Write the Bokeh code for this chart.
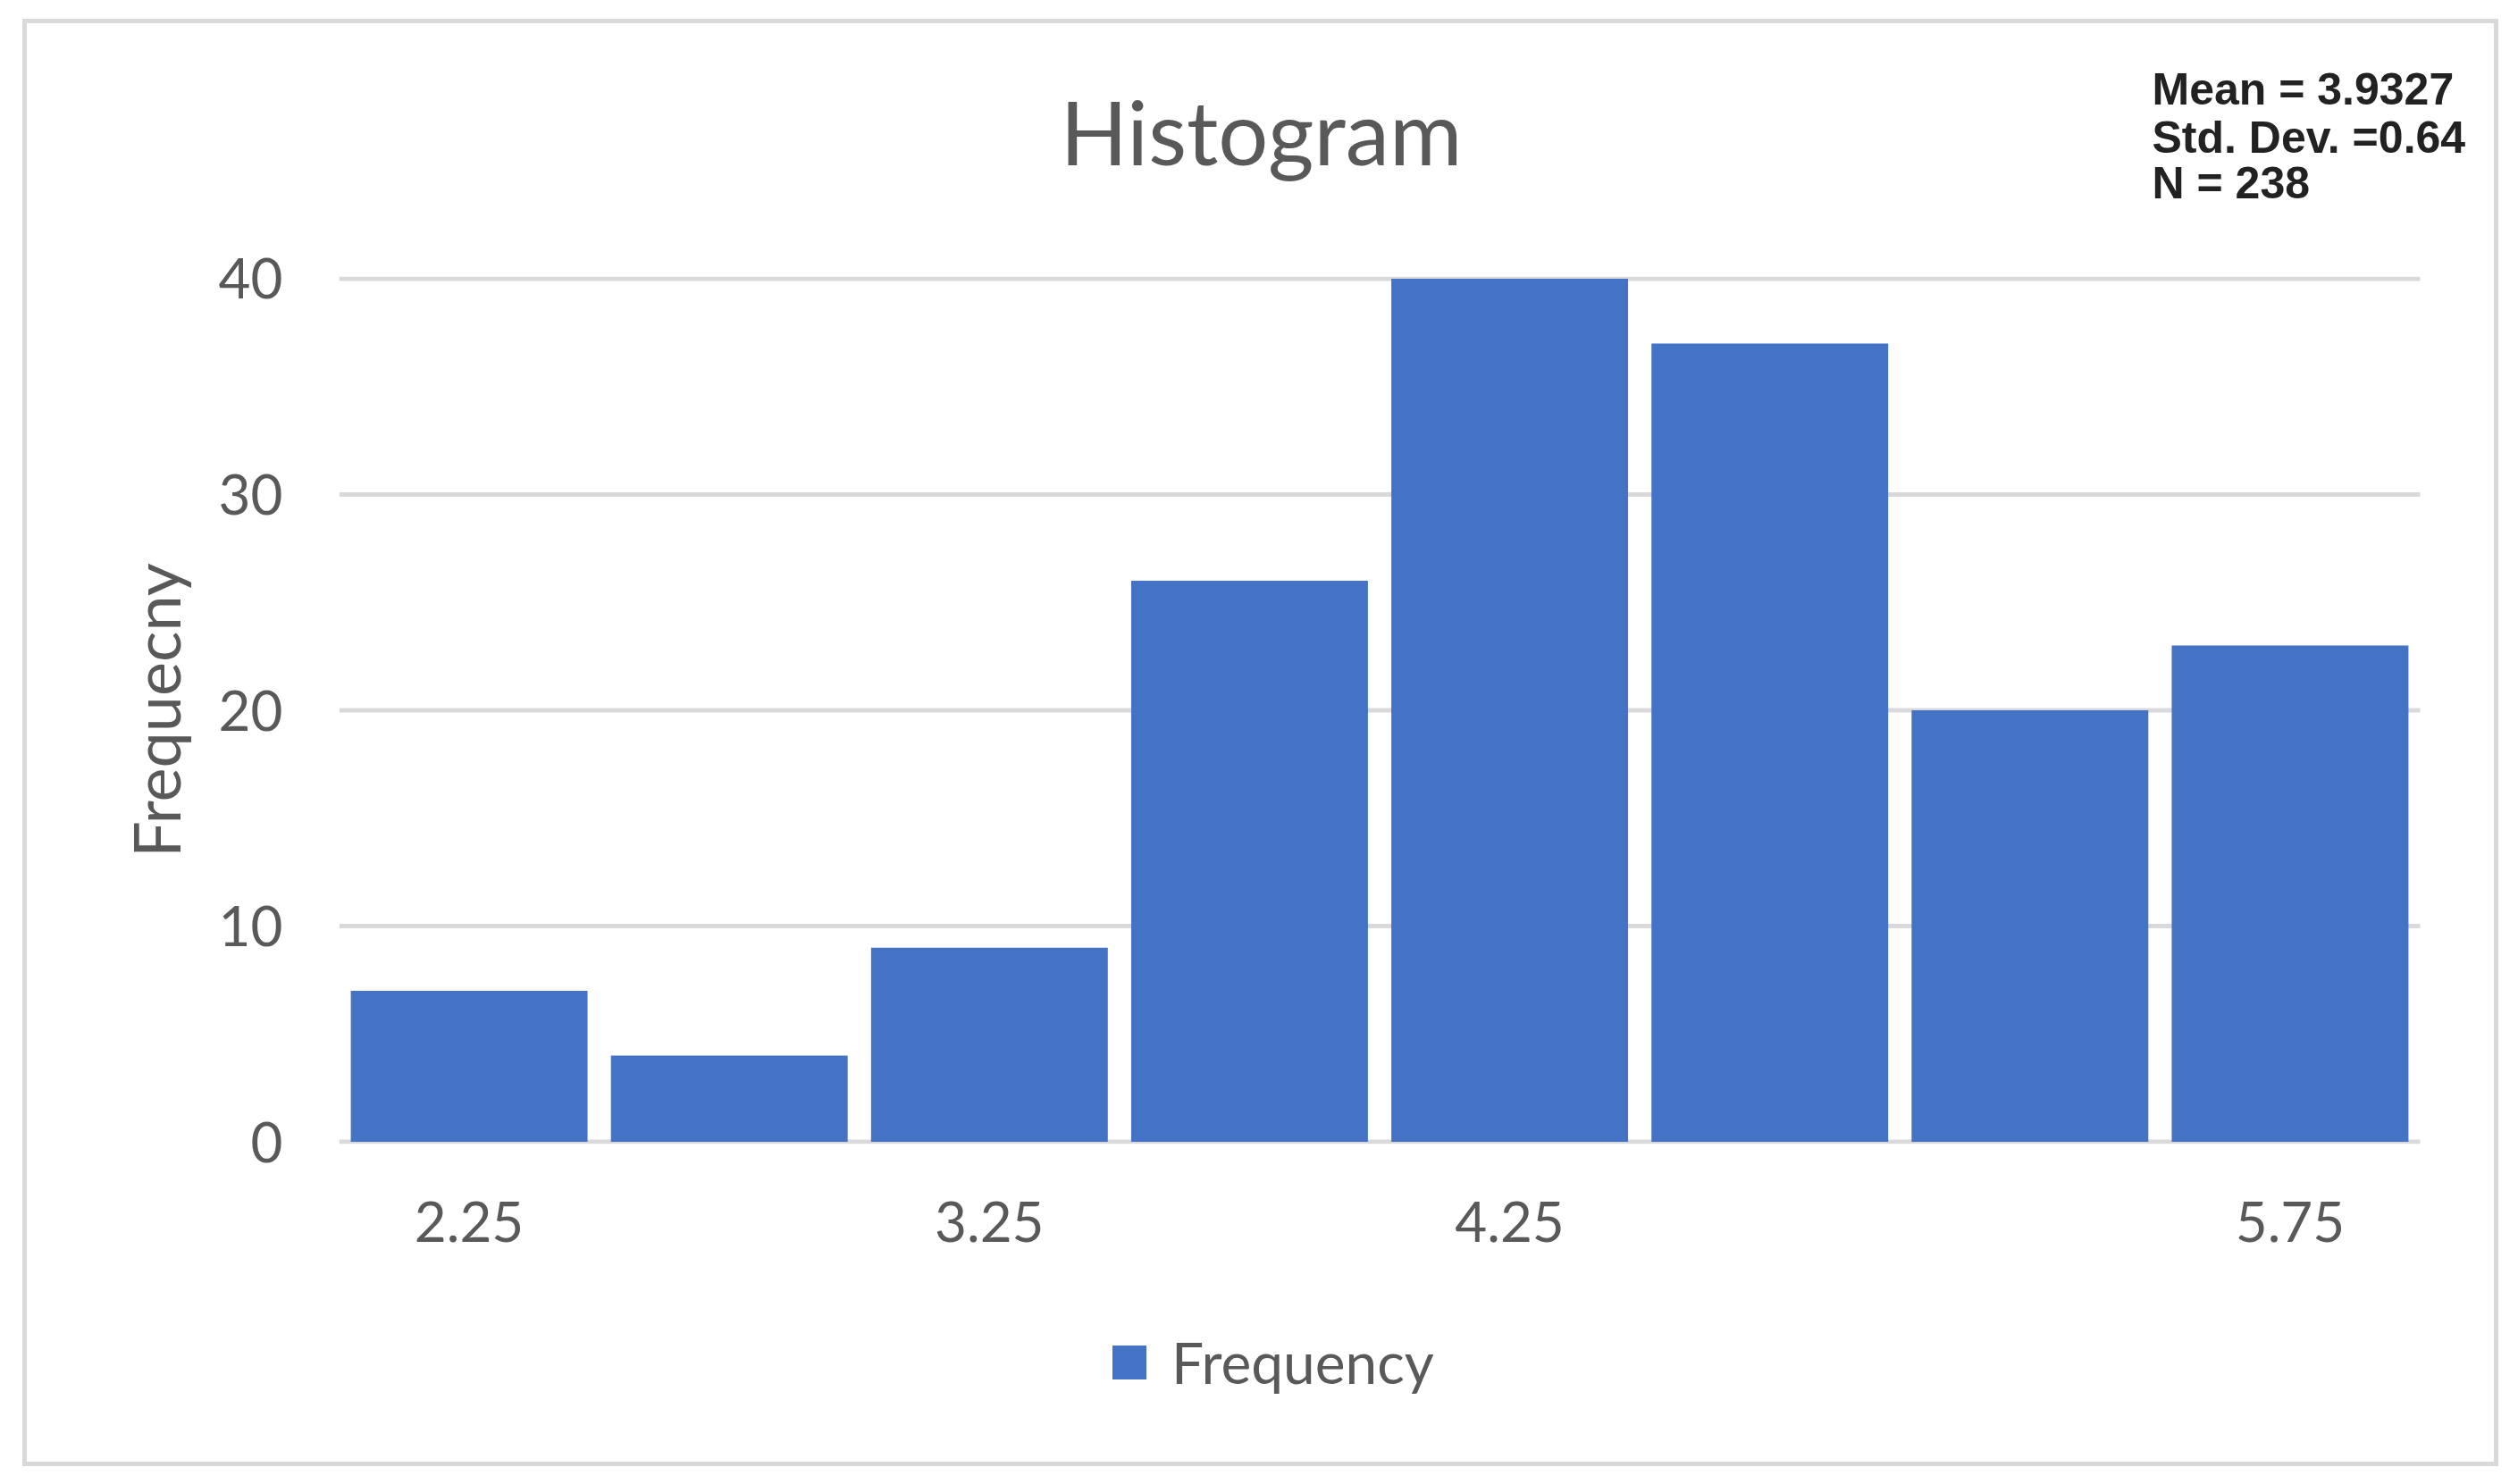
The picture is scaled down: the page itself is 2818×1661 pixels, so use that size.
from bokeh.plotting import figure
from bokeh.layouts import column, row
from bokeh.models import Range1d, FixedTicker, Label, Legend, LegendItem, NumeralTickFormatter, Spacer
from bokeh.embed import file_html
from bokeh.resources import INLINE

# ---- data ----
bin_centers = [2.25, 2.75, 3.25, 3.75, 4.25, 4.75, 5.25, 5.75]
frequency = [7, 4, 9, 26, 40, 37, 20, 23]
x_tick_values = [2.25, 3.25, 4.25, 5.75]
y_tick_values = [0, 10, 20, 30, 40]
title_text = "Histogram"
y_axis_title = "Frequecny"
series_name = "Frequency"
stats_lines = ["Mean = 3.9327", "Std. Dev. =0.64", "N = 238"]
bin_width = 0.5

FONT = "Lato"
GREY = "#595959"
BLUE = "#4472C4"
W = 2771                     # inner chart width
FL, FR = 354, 2735           # frame left / right in chart pixels (shared by all rows)

x_lo = bin_centers[0] - bin_width / 2
x_hi = bin_centers[-1] + bin_width / 2


def bare(fig):
    fig.axis.visible = False
    fig.grid.visible = False
    fig.outline_line_color = None
    fig.background_fill_alpha = 0
    fig.border_fill_alpha = 0
    return fig


# ---- header: title and statistics ----
HH = 229
header = bare(figure(width=W, height=HH, output_backend="svg", toolbar_location=None,
                     x_range=Range1d(FL, FR), y_range=Range1d(HH, 0),
                     min_border_left=FL, min_border_right=W - FR,
                     min_border_top=0, min_border_bottom=0))
header.add_layout(Label(x=1386, y=125, text=title_text, text_font=FONT,
                        text_font_size="99px", text_color=GREY,
                        text_align="center", text_baseline="alphabetic"))
for txt, yy in zip(stats_lines, [78, 132, 183]):
    header.add_layout(Label(x=2383, y=yy, text=txt, text_font="Liberation Sans",
                            text_font_size="50px", text_font_style="bold",
                            text_color="#222222", text_align="left",
                            text_baseline="alphabetic"))

# ---- main histogram ----
p = figure(width=W, height=1190, output_backend="svg", toolbar_location=None,
           x_range=Range1d(x_lo, 6.0893), y_range=Range1d(-0.1, 40.1),
           min_border_left=FL, min_border_right=W - FR,
           min_border_top=59, min_border_bottom=160)
p.outline_line_color = None
p.background_fill_alpha = 0
p.border_fill_alpha = 0

p.segment(x0=[x_lo] * len(y_tick_values), x1=[x_hi] * len(y_tick_values),
          y0=y_tick_values, y1=y_tick_values,
          line_color="#d9d9d9", line_width=5, level="underlay")
bars = p.vbar(x=bin_centers, top=frequency, width=bin_width * 0.91, bottom=0,
              fill_color=BLUE, line_color=None)

p.xaxis.ticker = FixedTicker(ticks=x_tick_values)
p.xaxis.formatter = NumeralTickFormatter(format="0.00")
p.yaxis.ticker = FixedTicker(ticks=y_tick_values)
for ax in (p.xaxis, p.yaxis):
    ax.axis_line_color = None
    ax.major_tick_line_color = None
    ax.minor_tick_line_color = None
    ax.major_label_text_font = FONT
    ax.major_label_text_font_size = "62px"
    ax.major_label_text_color = GREY
p.xaxis.major_label_standoff = 58
p.yaxis.major_label_standoff = 57
p.yaxis.axis_label = y_axis_title
p.yaxis.axis_label_text_font = FONT
p.yaxis.axis_label_text_font_size = "72px"
p.yaxis.axis_label_text_font_style = "normal"
p.yaxis.axis_label_text_color = GREY
p.yaxis.axis_label_standoff = 25
p.grid.visible = False

# ---- footer: legend ----
FH = 201
footer = bare(figure(width=W, height=FH, output_backend="svg", toolbar_location=None,
                     x_range=Range1d(FL, FR), y_range=Range1d(0, FH),
                     min_border_left=FL, min_border_right=W - FR,
                     min_border_top=0, min_border_bottom=0))
# legend key (its points fall outside this strip's ranges, only the key is seen)
key = footer.scatter(x=bin_centers, y=frequency, marker="square", size=38,
                     fill_color=BLUE, line_color=None)
legend = Legend(items=[LegendItem(label=series_name, renderers=[key])],
                location=(837, 69), orientation="horizontal",
                glyph_width=95, glyph_height=95, label_standoff=0,
                padding=0, margin=0, border_line_color=None, background_fill_alpha=0,
                label_text_font=FONT, label_text_font_size="64px", label_text_color=GREY)
footer.add_layout(legend, "center")

chart = column(header, p, footer, spacing=0)
chart.styles = {"box-shadow": "inset 0 0 0 5px #d9d9d9", "background-color": "white"}

page = column(Spacer(width=W + 25, height=21),
              row(Spacer(width=25, height=1620), chart, spacing=0), spacing=0)

open("out.html", "w").write(file_html(page, INLINE))
